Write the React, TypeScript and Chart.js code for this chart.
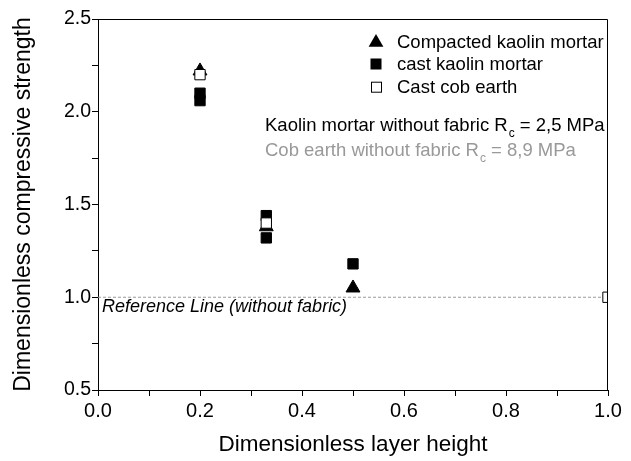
import React, { useEffect, useRef } from 'react';
import { Chart, registerables } from 'chart.js';

Chart.register(...registerables);

// ---- data ----
const compactedX = [0.2, 0.33, 0.5];
const compactedY = [2.22, 1.38, 1.05];
const castKaolinX = [0.2, 0.2, 0.33, 0.33, 0.5];
const castKaolinY = [2.1, 2.06, 1.44, 1.32, 1.18];
const cobX = [0.2, 0.33, 1.0];
const cobY = [2.2, 1.4, 1.0];
const referenceX = [0, 1];
const referenceY = [1, 1];
const seriesLabels = ['Compacted kaolin mortar', 'cast kaolin mortar', 'Cast cob earth'];
const yMajorTicks = [0.5, 1.0, 1.5, 2.0, 2.5];
const xMajorTicks = [0.0, 0.2, 0.4, 0.6, 0.8, 1.0];
const noteKaolin = ['Kaolin mortar without fabric R', 'c', ' = 2,5 MPa'];
const noteCob = ['Cob earth without fabric R', 'c', ' = 8,9 MPa'];
const referenceText = 'Reference Line (without fabric)';
const xTitle = 'Dimensionless layer height';
const yTitle = 'Dimensionless compressive strength';

const FONT = "'Liberation Sans', Arial, Helvetica, sans-serif";

const toPoints = (xs: number[], ys: number[]) => xs.map((x, i) => ({ x, y: ys[i] }));

function drawTriangle(ctx: CanvasRenderingContext2D, x: number, y: number, r: number) {
  ctx.beginPath();
  for (let k = 0; k < 3; k++) {
    const a = (k * 2 * Math.PI) / 3;
    const px = x + Math.sin(a) * r;
    const py = y - Math.cos(a) * r;
    if (k === 0) ctx.moveTo(px, py);
    else ctx.lineTo(px, py);
  }
  ctx.closePath();
}

const annotationPlugin = {
  id: 'annotations',
  afterDatasetsDraw(chart: any) {
    const { ctx, chartArea } = chart;
    const { left, top, right, bottom } = chartArea;
    ctx.save();
    // frame (top + right sides)
    ctx.strokeStyle = '#000';
    ctx.lineWidth = 1;
    ctx.beginPath();
    ctx.moveTo(Math.round(left) + 0.5, Math.round(top) + 0.5);
    ctx.lineTo(Math.round(right) - 0.5, Math.round(top) + 0.5);
    ctx.lineTo(Math.round(right) - 0.5, Math.round(bottom) + 0.5);
    ctx.stroke();

    // legend
    const mx = 376;
    const tx = 397;
    const rows = [47.5, 70, 92.7];
    ctx.font = `18.5px ${FONT}`;
    ctx.textBaseline = 'alphabetic';
    ctx.textAlign = 'left';
    ctx.fillStyle = '#000';
    seriesLabels.forEach((label, i) => {
      const cy = rows[i] - 6;
      ctx.lineWidth = 1;
      if (i === 0) {
        drawTriangle(ctx, mx, cy + 1, 8.5);
        ctx.fillStyle = '#000';
        ctx.fill();
      } else if (i === 1) {
        ctx.fillStyle = '#000';
        ctx.fillRect(mx - 5.5, cy - 5.5, 11, 11);
      } else {
        ctx.fillStyle = '#fff';
        ctx.fillRect(mx - 5, cy - 5, 10, 10);
        ctx.strokeStyle = '#000';
        ctx.strokeRect(mx - 4.5, cy - 4.5, 10, 10);
      }
      ctx.fillStyle = '#000';
      ctx.fillText(label, tx, rows[i]);
    });

    // notes with subscript
    const drawNote = (parts: string[], x: number, baseline: number, color: string) => {
      ctx.fillStyle = color;
      ctx.font = `18.5px ${FONT}`;
      ctx.fillText(parts[0], x, baseline);
      let cx = x + ctx.measureText(parts[0]).width + 1;
      ctx.font = `12px ${FONT}`;
      ctx.fillText(parts[1], cx, baseline + 6);
      cx += ctx.measureText(parts[1]).width;
      ctx.font = `18.5px ${FONT}`;
      ctx.fillText(parts[2], cx, baseline);
    };
    drawNote(noteKaolin, 265, 131, '#000');
    drawNote(noteCob, 265, 156, '#999');

    // reference line label
    ctx.fillStyle = '#000';
    ctx.font = `italic 18px ${FONT}`;
    ctx.fillText(referenceText, 102, 312);
    ctx.restore();
  },
};

export default function App() {
  const canvasRef = useRef<HTMLCanvasElement | null>(null);

  useEffect(() => {
    if (!canvasRef.current) return;
    const chart = new Chart(canvasRef.current, {
      type: 'scatter',
      data: {
        datasets: [
          {
            label: 'Reference',
            data: toPoints(referenceX, referenceY),
            showLine: true,
            borderColor: '#9a9a9a',
            borderWidth: 1,
            borderDash: [3, 2],
            pointRadius: 0,
            order: 4,
            clip: 0,
          } as any,
          {
            label: seriesLabels[0],
            data: toPoints(compactedX, compactedY),
            pointStyle: 'triangle',
            pointRadius: 8,
            backgroundColor: '#000',
            borderColor: '#000',
            borderWidth: 1,
            order: 3,
            clip: 0,
          },
          {
            label: seriesLabels[1],
            data: toPoints(castKaolinX, castKaolinY),
            pointStyle: 'rect',
            pointRadius: 7.3,
            backgroundColor: '#000',
            borderColor: '#000',
            borderWidth: 1,
            order: 2,
            clip: 0,
          },
          {
            label: seriesLabels[2],
            data: toPoints(cobX, cobY),
            pointStyle: 'rect',
            pointRadius: 7.3,
            backgroundColor: '#fff',
            borderColor: '#000',
            borderWidth: 1,
            order: 1,
            clip: 0,
          },
        ],
      },
      options: {
        responsive: false,
        animation: false,
        events: [],
        layout: { padding: { top: 19, right: 23, left: 0, bottom: 0 } },
        plugins: {
          legend: { display: false },
          tooltip: { enabled: false },
        },
        scales: {
          x: {
            type: 'linear',
            min: 0,
            max: 1,
            afterFit: (s: any) => {
              s.height = 71;
            },
            ticks: {
              stepSize: 0.1,
              autoSkip: false,
              maxRotation: 0,
              padding: 3,
              color: '#000',
              font: { family: FONT, size: 20 },
              callback: (v: any) => {
                const n = Number(v);
                const m = xMajorTicks.find((t) => Math.abs(t - n) < 1e-6);
                return m === undefined ? '' : m.toFixed(1);
              },
            },
            grid: { drawOnChartArea: false, drawTicks: true, tickLength: 6, tickColor: '#000' },
            border: { display: true, color: '#000', width: 1 },
            title: {
              display: true,
              text: xTitle,
              color: '#000',
              font: { family: FONT, size: 22.5 },
              padding: { top: 0, bottom: 3 },
            },
          },
          y: {
            type: 'linear',
            min: 0.5,
            max: 2.5,
            afterFit: (s: any) => {
              s.width = 98;
            },
            ticks: {
              stepSize: 0.25,
              autoSkip: false,
              padding: 1,
              color: '#000',
              font: { family: FONT, size: 19.5 },
              callback: (v: any) => {
                const n = Number(v);
                const m = yMajorTicks.find((t) => Math.abs(t - n) < 1e-6);
                return m === undefined ? '' : m.toFixed(1);
              },
            },
            grid: { drawOnChartArea: false, drawTicks: true, tickLength: 6, tickColor: '#000' },
            border: { display: true, color: '#000', width: 1 },
            title: {
              display: true,
              text: yTitle,
              color: '#000',
              font: { family: FONT, size: 23 },
              padding: { top: 10, bottom: 0 },
            },
          },
        },
      },
      plugins: [annotationPlugin],
    });
    return () => chart.destroy();
  }, []);

  return (
    <div style={{ position: 'fixed', left: 0, top: 0, width: 631, height: 461, background: '#fff' }}>
      <canvas ref={canvasRef} width={631} height={461} style={{ display: 'block' }} />
    </div>
  );
}
